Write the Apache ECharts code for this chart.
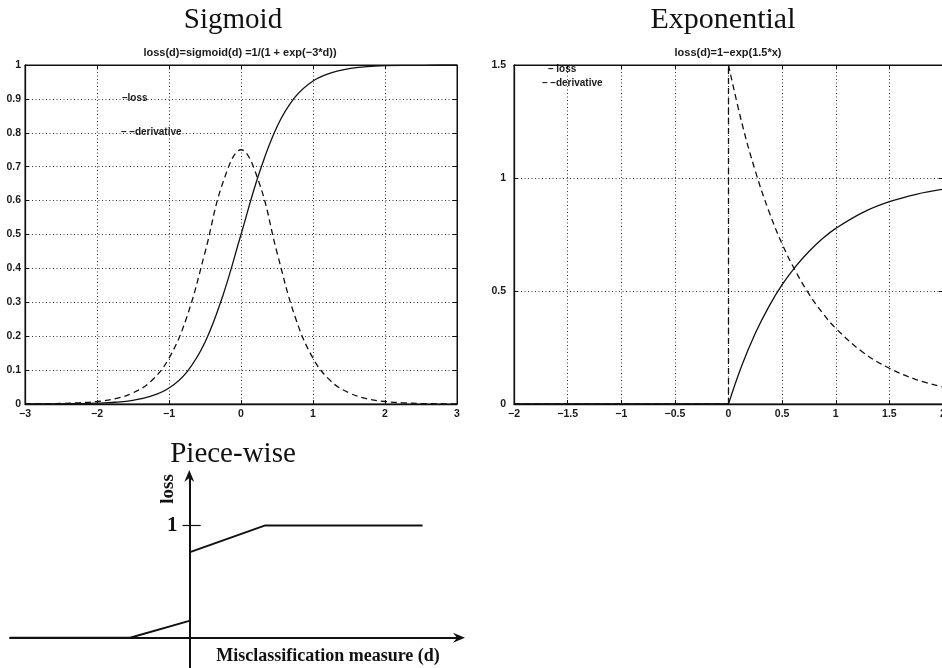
<!DOCTYPE html>
<html><head><meta charset="utf-8">
<script src="https://cdn.jsdelivr.net/npm/echarts@6/dist/echarts.min.js"></script>
<style>html,body{margin:0;padding:0;background:#fff}#c{width:942px;height:668px}</style>
</head><body><div id="c"></div>
<script>
// ---- Sigmoid panel ----
const sigX = [-3,-2.75,-2.5,-2.25,-2,-1.75,-1.5,-1.25,-1,-0.75,-0.5,-0.25,0,0.25,0.5,0.75,1,1.25,1.5,1.75,2,2.25,2.5,2.75,3];
const sigLoss = [0.0001,0.0003,0.0006,0.0012,0.0025,0.0052,0.011,0.023,0.047,0.095,0.182,0.321,0.5,0.679,0.818,0.905,0.953,0.977,0.989,0.995,0.998,0.999,0.999,1.0,1.0];
const sigDeriv = [0.0004,0.0008,0.0017,0.0035,0.0074,0.0155,0.033,0.067,0.135,0.258,0.447,0.654,0.75,0.654,0.447,0.258,0.135,0.067,0.033,0.0155,0.0074,0.0035,0.0017,0.0008,0.0004];
// ---- Exponential panel ----
const expZeroX = [-2, 0];
const expZeroY = [0, 0];
const expJumpY = [0, 1.5];
const expCurveX = [0,0.125,0.25,0.375,0.5,0.625,0.75,0.875,1,1.25,1.5,1.75,2];
const expLoss = [0,0.171,0.313,0.430,0.528,0.608,0.675,0.731,0.777,0.847,0.895,0.928,0.950];
const expDeriv = [1.5,1.243,1.031,0.855,0.708,0.588,0.487,0.404,0.335,0.230,0.158,0.108,0.075];
// ---- Piece-wise panel ----
const pwLowX = [-2.36,-0.78,0];
const pwLowY = [0,0,0.15];
const pwHighX = [0,1,3.07];
const pwHighY = [0.76,1,1];
const pwTickValue = 1;
// ---- labels ----
const titles = ['Sigmoid','Exponential','Piece-wise'];
const subtitles = ['loss(d)=sigmoid(d) =1/(1 + exp(\u22123*d))','loss(d)=1\u2212exp(1.5*x)'];
const legendTexts = ['\u2013loss','\u2013 \u2013derivative','\u2013 loss','\u2013 \u2013derivative'];

const zip = (xs, ys) => xs.map((x, i) => [x, ys[i]]);
const minus = v => String(v).replace('-', '\u2212');
const INK = '#111';
const tickFont = {fontFamily:'Liberation Sans', fontSize:10.5, fontWeight:'bold', color:'#1a1a1a'};
const gridLine = {show:true, lineStyle:{type:[1,2.5], color:'#333', width:1}};

function mainX(grid, min, max, interval){
  return {type:'value', gridIndex:grid, min, max, interval, position:'bottom',
    axisLine:{onZero:false, lineStyle:{color:INK, width:1.3}},
    axisTick:{inside:true, length:4, lineStyle:{color:INK}},
    axisLabel:Object.assign({margin:5, formatter:minus}, tickFont),
    splitLine:gridLine};
}
function mainY(grid, min, max, interval){
  return {type:'value', gridIndex:grid, min, max, interval, position:'left',
    axisLine:{onZero:false, lineStyle:{color:INK, width:1.3}},
    axisTick:{inside:true, length:4, lineStyle:{color:INK}},
    axisLabel:Object.assign({margin:4, formatter:minus}, tickFont),
    splitLine:gridLine};
}
function mirror(axis, pos){
  return {type:'value', gridIndex:axis.gridIndex, min:axis.min, max:axis.max, interval:axis.interval, position:pos,
    axisLine:{onZero:false, lineStyle:{color:INK, width:1}},
    axisTick:{inside:true, length:4, lineStyle:{color:INK}},
    axisLabel:{show:false}, splitLine:{show:false}};
}
const sx = mainX(0,-3,3,1), sy = mainY(0,0,1,0.1);
const ex = mainX(1,-2,2,0.5), ey = mainY(1,0,1.5,0.5);
ey.axisLabel.margin = 8;

const arrowPath = 'path://M5,0 L10,12 L5,8 L0,12 Z';
const px = {type:'value', gridIndex:2, min:-2.36, max:3.55,
  axisLine:{onZero:true, symbol:['none', arrowPath], symbolSize:[10,14], lineStyle:{color:INK, width:2}},
  axisTick:{show:false}, axisLabel:{show:false}, splitLine:{show:false}};
const py = {type:'value', gridIndex:2, min:-0.27, max:1.44,
  axisLine:{onZero:true, symbol:['none', arrowPath], symbolSize:[10,14], lineStyle:{color:INK, width:2}},
  axisTick:{show:false}, axisLabel:{show:false}, splitLine:{show:false}};

const solid = {color:INK, width:1.3, type:'solid'};
const dashed = {color:INK, width:1.3, type:[6,4]};
function line(xi, yi, data, style, smooth){
  return {type:'line', xAxisIndex:xi, yAxisIndex:yi, data, showSymbol:false, symbol:'none',
    smooth:smooth||false, lineStyle:style, silent:true, animation:false};
}

const option = {
  animation:false,
  backgroundColor:'#fff',
  grid:[
    {left:25, top:65, width:432, height:339, show:true, borderColor:INK, borderWidth:1, outerBoundsMode:'none', containLabel:false},
    {left:514, top:65, width:429, height:339, show:true, borderColor:INK, borderWidth:1, outerBoundsMode:'none', containLabel:false},
    {left:10, top:476, width:449, height:192, outerBoundsMode:'none', containLabel:false}
  ],
  xAxis:[sx, mirror(sx,'top'), ex, mirror(ex,'top'), px],
  yAxis:[sy, mirror(sy,'right'), ey, mirror(ey,'right'), py],
  series:[
    line(0,0,zip(sigX,sigLoss),solid,0.4),
    line(0,0,zip(sigX,sigDeriv),dashed,0.4),
    line(2,2,zip(expZeroX,expZeroY),solid),
    line(2,2,zip(expCurveX,expLoss),solid,0.4),
    line(2,2,zip(expZeroX,expZeroY),dashed),
    line(2,2,zip([0,0],expJumpY),dashed),
    line(2,2,zip(expCurveX,expDeriv),dashed,0.4),
    line(4,4,zip(pwLowX,pwLowY),{color:INK,width:2}),
    Object.assign(line(4,4,zip(pwHighX,pwHighY),{color:INK,width:2}),{
      markLine:{silent:true, symbol:['none','none'],
        label:{show:true, position:'start', distance:5, formatter:String(pwTickValue),
          fontFamily:'Liberation Serif', fontWeight:'bold', fontSize:21, color:INK},
        lineStyle:{color:INK, width:1.2, type:'solid'},
        data:[[{coord:[-0.09,pwTickValue]},{coord:[0.15,pwTickValue]}]]}})
  ],
  graphic:[
    {type:'text', x:233, y:20, style:{text:titles[0], font:'29px "Liberation Serif"', fill:INK, textAlign:'center', textVerticalAlign:'middle'}},
    {type:'text', x:723, y:20, style:{text:titles[1], font:'30px "Liberation Serif"', fill:INK, textAlign:'center', textVerticalAlign:'middle'}},
    {type:'text', x:233, y:454, style:{text:titles[2], font:'29px "Liberation Serif"', fill:INK, textAlign:'center', textVerticalAlign:'middle'}},
    {type:'text', x:240, y:53, style:{text:subtitles[0], font:'bold 11px "Liberation Sans"', fill:'#1a1a1a', textAlign:'center', textVerticalAlign:'middle'}},
    {type:'text', x:728, y:53, style:{text:subtitles[1], font:'bold 11px "Liberation Sans"', fill:'#1a1a1a', textAlign:'center', textVerticalAlign:'middle'}},
    {type:'text', x:122, y:98, style:{text:legendTexts[0], font:'bold 10px "Liberation Sans"', fill:'#1a1a1a', textAlign:'left', textVerticalAlign:'middle'}},
    {type:'text', x:121, y:132, style:{text:legendTexts[1], font:'bold 10px "Liberation Sans"', fill:'#1a1a1a', textAlign:'left', textVerticalAlign:'middle'}},
    {type:'text', x:548, y:69, style:{text:legendTexts[2], font:'bold 10px "Liberation Sans"', fill:'#1a1a1a', textAlign:'left', textVerticalAlign:'middle'}},
    {type:'text', x:542, y:83, style:{text:legendTexts[3], font:'bold 10px "Liberation Sans"', fill:'#1a1a1a', textAlign:'left', textVerticalAlign:'middle'}},
    {type:'text', x:168, y:489, rotation:Math.PI/2, style:{text:'loss', font:'bold 19px "Liberation Serif"', fill:INK, textAlign:'center', textVerticalAlign:'middle'}},
    {type:'text', x:328, y:656, style:{text:'Misclassification measure (d)', font:'bold 18px "Liberation Serif"', fill:INK, textAlign:'center', textVerticalAlign:'middle'}}
  ]
};
const chart = echarts.init(document.getElementById('c'), null, {renderer:'canvas'});
chart.setOption(option);
</script></body></html>
